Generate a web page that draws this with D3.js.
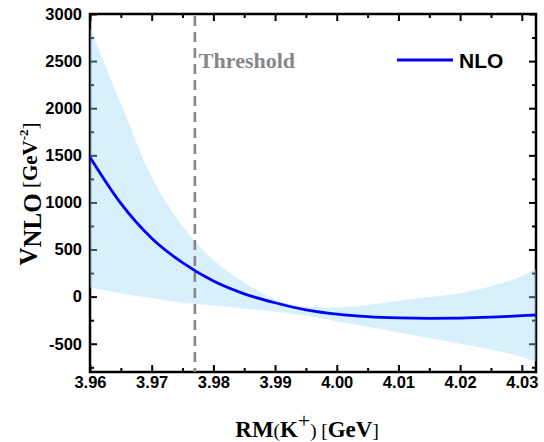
<!DOCTYPE html>
<html>
<head>
<meta charset="utf-8">
<script src="https://cdn.jsdelivr.net/npm/d3@7"></script>
<style>
  body { margin: 0; background: #fff; }
  #chart { width: 544px; height: 442px; }
  .tick text { font-family: "Liberation Sans", Arial, sans-serif; font-weight: bold; font-size: 16.5px; fill: #000; }
</style>
</head>
<body>
<div id="chart"></div>
<script>
// values
const massValues = [3.960, 3.965, 3.970, 3.975, 3.980, 3.985, 3.990, 3.995, 4.000, 4.005, 4.010, 4.015, 4.020, 4.025, 4.030, 4.0323];
const nloValues = [1480, 990, 620, 360, 165, 30, -65, -140, -185, -212, -226, -231, -228, -218, -202, -195];
const upperValues = [2850, 2050, 1270, 750, 390, 150, -30, -105, -115, -90, -45, -5, 35, 110, 220, 295];
const lowerValues = [100, 35, -15, -65, -95, -125, -160, -200, -260, -320, -380, -440, -500, -560, -640, -690];
const thresholdMass = 3.977;

const xMajorTicks = [3.96, 3.97, 3.98, 3.99, 4.00, 4.01, 4.02, 4.03];
const xMinorTicks = [3.965, 3.975, 3.985, 3.995, 4.005, 4.015, 4.025];
const yMajorTicks = [-500, 0, 500, 1000, 1500, 2000, 2500, 3000];
const yMinorTicks = [-750, -250, 250, 750, 1250, 1750, 2250, 2750];

const width = 544, height = 442;
const margin = { top: 14, right: 8, bottom: 70, left: 90 };
const innerW = width - margin.left - margin.right;
const innerH = height - margin.top - margin.bottom;

const svg = d3.select('#chart').append('svg')
    .attr('width', width)
    .attr('height', height);

const g = svg.append('g')
    .attr('transform', `translate(${margin.left},${margin.top})`);

const x = d3.scaleLinear().domain([3.96, 4.0323]).range([0, innerW]);
const y = d3.scaleLinear().domain([-800, 3000]).range([innerH, 0]);

const points = massValues.map((m, i) => ({ m, v: nloValues[i], hi: upperValues[i], lo: lowerValues[i] }));

// frame with inward ticks on all four sides
function styleAxis(sel) {
    sel.select('.domain').remove();
    sel.selectAll('.tick line').attr('stroke', '#000').attr('stroke-width', 2);
}

g.append('g').attr('transform', `translate(0,${innerH})`)
    .call(d3.axisBottom(x).tickValues(xMajorTicks).tickSize(-7).tickSizeOuter(0).tickPadding(4).tickFormat(d3.format('.2f')))
    .call(styleAxis);
g.append('g').attr('transform', `translate(0,${innerH})`)
    .call(d3.axisBottom(x).tickValues(xMinorTicks).tickSize(-4).tickSizeOuter(0).tickFormat(''))
    .call(styleAxis);
g.append('g')
    .call(d3.axisTop(x).tickValues(xMajorTicks).tickSize(-7).tickSizeOuter(0).tickFormat(''))
    .call(styleAxis);
g.append('g')
    .call(d3.axisTop(x).tickValues(xMinorTicks).tickSize(-4).tickSizeOuter(0).tickFormat(''))
    .call(styleAxis);

g.append('g')
    .call(d3.axisLeft(y).tickValues(yMajorTicks).tickSize(-7).tickSizeOuter(0).tickPadding(8).tickFormat(d => String(d)))
    .call(styleAxis);
g.append('g')
    .call(d3.axisLeft(y).tickValues(yMinorTicks).tickSize(-4).tickSizeOuter(0).tickFormat(''))
    .call(styleAxis);
g.append('g').attr('transform', `translate(${innerW},0)`)
    .call(d3.axisRight(y).tickValues(yMajorTicks).tickSize(-7).tickSizeOuter(0).tickFormat(''))
    .call(styleAxis);
g.append('g').attr('transform', `translate(${innerW},0)`)
    .call(d3.axisRight(y).tickValues(yMinorTicks).tickSize(-4).tickSizeOuter(0).tickFormat(''))
    .call(styleAxis);

g.append('rect')
    .attr('width', innerW)
    .attr('height', innerH)
    .attr('fill', 'none')
    .attr('stroke', '#000')
    .attr('stroke-width', 2.5);

// uncertainty band, drawn over the frame like the original
const band = d3.area()
    .x(d => x(d.m))
    .y0(d => y(d.lo))
    .y1(d => y(d.hi))
    .curve(d3.curveMonotoneX);

g.append('path')
    .datum(points)
    .attr('d', band)
    .attr('fill', 'rgb(150,215,245)')
    .attr('fill-opacity', 0.38);

// threshold marker
g.append('line')
    .attr('x1', x(thresholdMass)).attr('x2', x(thresholdMass))
    .attr('y1', 2).attr('y2', innerH)
    .attr('stroke', '#878787')
    .attr('stroke-width', 2.6)
    .attr('stroke-dasharray', '10,6');

g.append('text')
    .attr('x', x(thresholdMass) + 4)
    .attr('y', 54)
    .attr('font-family', '"Liberation Serif", "Times New Roman", serif')
    .attr('font-weight', 'bold')
    .attr('font-size', 22)
    .attr('fill', '#878787')
    .text('Threshold');

// central NLO curve
const line = d3.line()
    .x(d => x(d.m))
    .y(d => y(d.v))
    .curve(d3.curveMonotoneX);

g.append('path')
    .datum(points)
    .attr('d', line)
    .attr('fill', 'none')
    .attr('stroke', '#0000ff')
    .attr('stroke-width', 2.8);

// legend
g.append('line')
    .attr('x1', 307).attr('x2', 363)
    .attr('y1', 46).attr('y2', 46)
    .attr('stroke', '#0000ff')
    .attr('stroke-width', 2.8);

g.append('text')
    .attr('x', 369)
    .attr('y', 54)
    .attr('font-family', '"Liberation Sans", Arial, sans-serif')
    .attr('font-weight', 'bold')
    .attr('font-size', 21)
    .text('NLO');

// axis titles
const serif = '"Liberation Serif", "Times New Roman", serif';

const xTitle = svg.append('text')
    .attr('x', 307)
    .attr('y', 437)
    .attr('text-anchor', 'middle')
    .attr('font-family', serif)
    .attr('font-size', 23);
xTitle.append('tspan').attr('font-weight', 'bold').text('RM');
xTitle.append('tspan').attr('font-size', 19).text('(');
xTitle.append('tspan').attr('font-weight', 'bold').text('K');
xTitle.append('tspan').attr('font-size', 22).attr('dy', -9).text('+');
xTitle.append('tspan').attr('font-size', 19).attr('dy', 9).text(') [');
xTitle.append('tspan').attr('font-weight', 'bold').text('GeV');
xTitle.append('tspan').attr('font-size', 19).text(']');

const yTitle = svg.append('text')
    .attr('transform', `translate(37,${margin.top + 180}) rotate(-90)`)
    .attr('text-anchor', 'middle')
    .attr('font-family', serif)
    .attr('font-size', 25);
yTitle.append('tspan').attr('font-weight', 'bold').text('V');
yTitle.append('tspan').attr('font-weight', 'bold').attr('dy', 4).text('NLO');
yTitle.append('tspan').attr('font-size', 21).attr('dy', -4).text(' [');
yTitle.append('tspan').attr('font-size', 21).attr('font-weight', 'bold').text('GeV');
yTitle.append('tspan').attr('font-size', 13).attr('font-weight', 'bold').attr('dy', -9).text('-2');
yTitle.append('tspan').attr('font-size', 21).attr('dy', 9).text(']');
</script>
</body>
</html>
